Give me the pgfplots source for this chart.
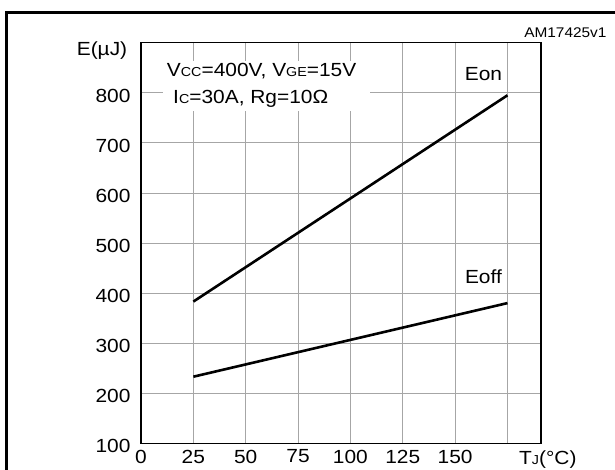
\documentclass[border=0pt]{standalone}
\usepackage{pgfplots}
\pgfplotsset{compat=1.18}
\usepackage{fontspec}
\setmainfont[FakeStretch=1.1]{Liberation Sans}
\newcommand{\sm}[1]{{\fontsize{13}{13}\selectfont #1}}
\begin{document}
\begin{tikzpicture}[x=1pt,y=1pt]
  \useasboundingbox (0,0) rectangle (615,470);
  % outer frame (only left and top are visible in the reference)
  \draw[line width=3pt] (6,-5) -- (6,457.5) -- (620,457.5);
  \node[anchor=east, font=\fontsize{14}{14}\selectfont] at (610,437.3) {AM17425v1};
  \node[font=\fontsize{19}{19}\selectfont] at (102,419) {E(µJ)};
  \node[anchor=east, font=\fontsize{19}{19}\selectfont] at (580,10) {T\sm{J}(°C)};

  \begin{axis}[
      at={(141pt,26.7pt)}, anchor=south west,
      scale only axis, width=400pt, height=400.6pt,
      xmin=0, xmax=191, ymin=100, ymax=900,
      xtick={0,25,...,175},
      xticklabels={0,25,50,75,100,125,150,{}},
      ytick={100,200,...,800},
      grid=major,
      major grid style={gray!70, line width=0.8pt},
      major tick length=0pt,
      axis line style={line width=1.2pt},
      tick label style={font=\fontsize{19}{19}\selectfont},
      xticklabel style={yshift=-3pt},
      yticklabel style={xshift=-7pt, yshift=-3pt},
      /pgf/number format/assume math mode=true,
      clip=false,
  ]
  \fill[white] (axis cs:10.5,763) rectangle (axis cs:109.5,863);
  \node[anchor=west, font=\fontsize{19}{19}\selectfont, inner sep=0pt]
    at (axis cs:12.3,843) {V\sm{CC}=400V, V\sm{GE}=15V};
  \node[anchor=west, font=\fontsize{19}{19}\selectfont, inner sep=0pt]
    at (axis cs:15.3,787) {I\sm{C}=30A, Rg=10Ω};

  % Eon
  \addplot[black, line width=2.6pt] coordinates {(25,383) (175,795)};
  % Eoff
  \addplot[black, line width=2.6pt] coordinates {(25,233) (175,380)};

  \node[font=\fontsize{19}{19}\selectfont] at (axis cs:163.5,837) {Eon};
  \node[font=\fontsize{19}{19}\selectfont] at (axis cs:163.5,433) {Eoff};
  \end{axis}
\end{tikzpicture}
\end{document}
